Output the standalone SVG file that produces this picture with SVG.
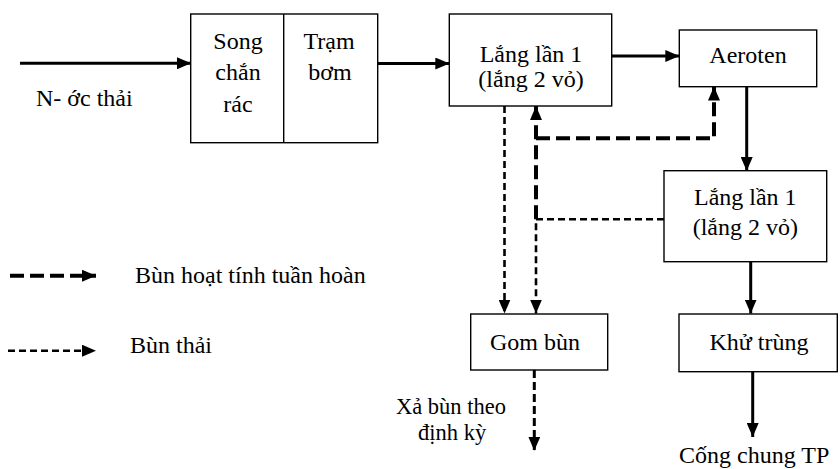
<svg xmlns="http://www.w3.org/2000/svg" width="840" height="469" viewBox="0 0 840 469" font-family="Liberation Serif, Times New Roman, serif">
<style>
text{font-family:"Liberation Serif","Times New Roman",serif;font-size:24px;fill:#000}
.c{text-anchor:middle}
.sm{font-size:22.5px}
.box{fill:#fff;stroke:#000;stroke-width:1.4}
.solid{fill:none;stroke:#000;stroke-width:3}
.thick{fill:none;stroke:#000;stroke-width:4;stroke-dasharray:14 6}
.thin{fill:none;stroke:#000;stroke-width:2.6;stroke-dasharray:7 4}
</style>
<defs>
<marker id="ah" markerUnits="userSpaceOnUse" markerWidth="14" markerHeight="12" refX="14" refY="6" orient="auto" viewBox="0 0 14 12">
<path d="M0,0 L14,6 L0,12 z" fill="#000"/>
</marker>
</defs>
<rect width="840" height="469" fill="#fff"/>
<g id="connectors">
<path class="solid" d="M20,63.3 H191" marker-end="url(#ah)"/>
<path class="solid" d="M378,63.5 H449.3" marker-end="url(#ah)"/>
<path class="solid" d="M611.7,56 H679.3" marker-end="url(#ah)"/>
<path class="solid" d="M746.7,86.7 V171" marker-end="url(#ah)"/>
<path class="solid" d="M750.7,261.7 V313.5" marker-end="url(#ah)"/>
<path class="solid" d="M752.7,372 V437" marker-end="url(#ah)"/>
<path class="thin" d="M504.5,106 V313.5" marker-end="url(#ah)"/>
<path class="thin" d="M664,219.3 H536 V313.5" marker-end="url(#ah)"/>
<path class="thick" d="M536,219.3 V106" marker-end="url(#ah)"/>
<path class="thick" d="M536,138.3 H714 V86.5" marker-end="url(#ah)"/>
<path class="thin" style="stroke-width:3;stroke-dasharray:8 4" d="M534.3,370 V450.7" marker-end="url(#ah)"/>
<path class="thick" d="M10,275.7 H96" marker-end="url(#ah)"/>
<path class="thin" d="M8,350.7 H96" marker-end="url(#ah)"/>
</g>
<g id="song-tram">
<rect class="box" x="190.7" y="14" width="187" height="128.7"/>
<line x1="283.7" y1="14" x2="283.7" y2="142.7" stroke="#000" stroke-width="1.4"/>
<text class="c" x="238" y="49">Song</text>
<text class="c" x="238" y="80">chắn</text>
<text class="c" x="238" y="111.5">rác</text>
<text class="c" x="329" y="49">Trạm</text>
<text class="c" x="330" y="80">bơm</text>
</g>
<g id="lang1">
<rect class="box" x="449.3" y="14" width="162.4" height="92"/>
<text class="c" x="531" y="61.5">Lắng lần 1</text>
<text class="c" x="531" y="87">(lắng 2 vỏ)</text>
</g>
<g id="aeroten">
<rect class="box" x="679.3" y="30" width="137.4" height="56.7"/>
<text class="c" x="748" y="63.3">Aeroten</text>
</g>
<g id="lang2">
<rect class="box" x="664" y="170.7" width="162.7" height="91"/>
<text class="c" x="745.3" y="205">Lắng lần 1</text>
<text class="c" x="745.3" y="235">(lắng 2 vỏ)</text>
</g>
<g id="gom-bun">
<rect class="box" x="470.7" y="314" width="137" height="56"/>
<text class="c" x="535" y="350">Gom bùn</text>
</g>
<g id="khu-trung">
<rect class="box" x="679" y="314" width="158.3" height="57.7"/>
<text class="c" x="759" y="350">Khử trùng</text>
</g>
<g id="labels">
<text x="36" y="106">N- ớc thải</text>
<text class="sm" x="396" y="414">Xả bùn theo</text>
<text class="sm" x="418" y="440">định kỳ</text>
<text x="679" y="463">Cống chung TP</text>
<text x="135" y="283">Bùn hoạt tính tuần hoàn</text>
<text x="130" y="353">Bùn thải</text>
</g>
</svg>
